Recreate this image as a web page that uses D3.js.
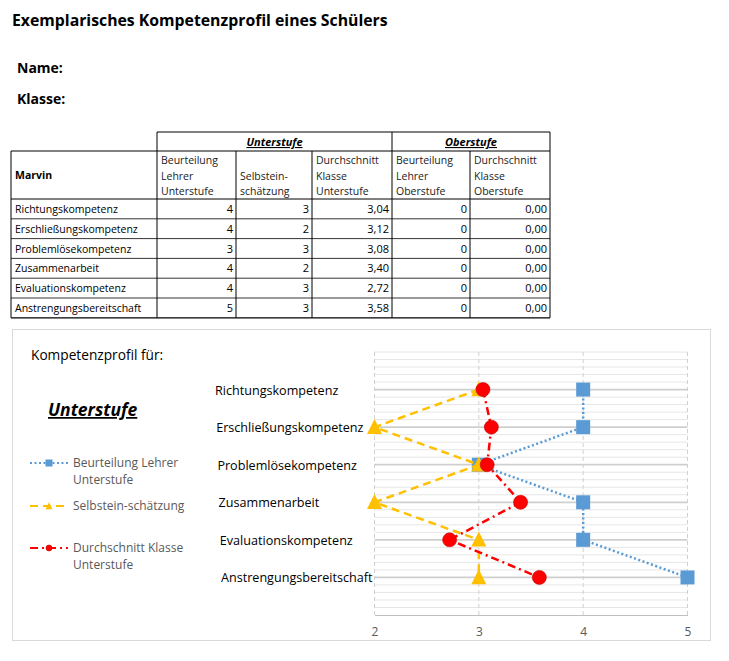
<!DOCTYPE html>
<html>
<head>
<meta charset="utf-8" />
<title>Kompetenzprofil</title>
<script src="https://d3js.org/d3.v7.min.js"></script>
<style>
  body { margin: 0; background: #fff; }
  svg text { font-family: "Open Sans", "DejaVu Sans", sans-serif; }
</style>
</head>
<body>
<div id="page"></div>
<script>
// data
var categories = ["Richtungskompetenz", "Erschließungskompetenz", "Problemlösekompetenz",
                  "Zusammenarbeit", "Evaluationskompetenz", "Anstrengungsbereitschaft"];
var lehrerUnter = [4, 4, 3, 4, 4, 5];
var selbst = [3, 2, 3, 2, 3, 3];
var klasseUnter = [3.04, 3.12, 3.08, 3.40, 2.72, 3.58];
var lehrerOber = [0, 0, 0, 0, 0, 0];
var klasseOber = [0, 0, 0, 0, 0, 0];
var xTicks = [2, 3, 4, 5];

var svg = d3.select("#page").append("svg")
    .attr("width", 729)
    .attr("height", 661);

// heading
svg.append("text").attr("x", 12).attr("y", 26)
    .style("font-size", "15.8px").style("font-weight", "bold")
    .text("Exemplarisches Kompetenzprofil eines Schülers");
svg.append("text").attr("x", 17).attr("y", 73)
    .style("font-size", "14px").style("font-weight", "bold").text("Name:");
svg.append("text").attr("x", 17).attr("y", 104)
    .style("font-size", "14px").style("font-weight", "bold").text("Klasse:");

// ---- table ----
var cols = [11, 157, 236, 312, 392, 470, 550];
var tTop = 132, hLine = 151, hBottom = 199, rowH = 19.8;
var tBottom = hBottom + rowH * categories.length;
var tbl = svg.append("g").attr("class", "table");
var bc = "#000";

// top group header box
tbl.append("line").attr("x1", cols[1]).attr("x2", cols[6]).attr("y1", tTop).attr("y2", tTop).style("stroke", bc);
[1, 4, 6].forEach(function(c) {
  tbl.append("line").attr("x1", cols[c]).attr("x2", cols[c]).attr("y1", tTop).attr("y2", hLine).style("stroke", bc);
});
tbl.append("line").attr("x1", cols[0]).attr("x2", cols[6]).attr("y1", hLine).attr("y2", hLine).style("stroke", bc);
tbl.append("line").attr("x1", cols[0]).attr("x2", cols[6]).attr("y1", hBottom).attr("y2", hBottom).style("stroke", bc);
cols.forEach(function(cx) {
  tbl.append("line").attr("x1", cx).attr("x2", cx).attr("y1", hLine).attr("y2", tBottom).style("stroke", bc);
});
d3.range(categories.length).forEach(function(i) {
  var yy = hBottom + rowH * (i + 1);
  tbl.append("line").attr("x1", cols[0]).attr("x2", cols[6]).attr("y1", yy).attr("y2", yy)
      .style("stroke", bc).style("stroke-width", i == categories.length - 1 ? 1.2 : 0.8);
});

[["Unterstufe", (cols[1] + cols[4]) / 2], ["Oberstufe", (cols[4] + cols[6]) / 2]].forEach(function(d) {
  tbl.append("text").attr("x", d[1]).attr("y", 146)
      .style("font-size", "11px").style("font-weight", "bold").style("font-style", "italic")
      .style("text-decoration", "underline").style("text-anchor", "middle").text(d[0]);
});
tbl.append("text").attr("x", 15).attr("y", 179).style("font-size", "10.5px").style("font-weight", "bold").text("Marvin");

var heads = [["Beurteilung", "Lehrer", "Unterstufe"], ["Selbstein-", "schätzung"],
             ["Durchschnitt", "Klasse", "Unterstufe"], ["Beurteilung", "Lehrer", "Oberstufe"],
             ["Durchschnitt", "Klasse", "Oberstufe"]];
heads.forEach(function(lines, c) {
  lines.forEach(function(s, k) {
    tbl.append("text").attr("x", cols[c + 1] + 4)
        .attr("y", 195 - (lines.length - 1 - k) * 15.5)
        .style("font-size", "10.5px").style("fill", "#222").text(s);
  });
});

var fmt2 = function(v) { return v.toFixed(2).replace(".", ","); };
var tableCols = [
  lehrerUnter.map(String), selbst.map(String), klasseUnter.map(fmt2),
  lehrerOber.map(String), klasseOber.map(fmt2)
];
categories.forEach(function(cat, i) {
  var by = hBottom + rowH * i + 14;
  tbl.append("text").attr("x", 15).attr("y", by).style("font-size", "10.5px").text(cat);
  tableCols.forEach(function(col, c) {
    tbl.append("text").attr("x", cols[c + 2] - 3).attr("y", by)
        .style("font-size", "11px").style("text-anchor", "end").text(col[i]);
  });
});

// ---- chart ----
svg.append("rect").attr("x", 12.5).attr("y", 329.5).attr("width", 698).attr("height", 311)
    .style("fill", "none").style("stroke", "#d9d9d9");

svg.append("text").attr("x", 31).attr("y", 360).style("font-size", "13.7px").text("Kompetenzprofil für:");
svg.append("text").attr("x", 48).attr("y", 416)
    .style("font-size", "17.5px").style("font-weight", "bold").style("font-style", "italic")
    .style("text-decoration", "underline").text("Unterstufe");

var x = d3.scaleLinear().domain([2, 5]).range([374.5, 687.5]);
var y = d3.scaleLinear().domain([0, 7]).range([615, 352]);
var catVal = function(i) { return 6 - i; };

var plot = svg.append("g");

// minor + major horizontal grid
d3.range(1, 36).forEach(function(k) {
  var v = k / 5;
  var major = (k % 5 == 0) && v < 7;
  plot.append("line").attr("x1", x(2)).attr("x2", x(5))
      .attr("y1", y(v)).attr("y2", y(v))
      .style("stroke", major ? "#cfcfcf" : "#e6e6e6")
      .style("stroke-width", major ? 1.8 : 1);
});
// vertical dashed grid
xTicks.forEach(function(t) {
  plot.append("line").attr("x1", x(t)).attr("x2", x(t)).attr("y1", y(7)).attr("y2", y(0))
      .style("stroke", "#d0d0d0").style("stroke-dasharray", "4,3");
});

var xAxis = d3.axisBottom(x).tickValues(xTicks).tickFormat(d3.format("d")).tickSize(0).tickPadding(12);
var ax = plot.append("g").attr("transform", "translate(0," + y(0) + ")").call(xAxis);
ax.select(".domain").style("stroke", "#bfbfbf");
ax.selectAll("text").style("font-size", "12px").style("fill", "#595959")
    .style("font-family", "'Open Sans', sans-serif");

// category labels
plot.selectAll(".cat").data(categories).enter().append("text")
    .attr("class", "cat")
    .attr("x", function(d, i) { return 215 + i * 1.2; })
    .attr("y", function(d, i) { return y(catVal(i)) + 5; })
    .style("font-size", "12.6px")
    .text(function(d) { return d; });

var series = [
  {name: ["Beurteilung Lehrer", "Unterstufe"], values: lehrerUnter, color: "#5b9bd5", dash: "2,2.5", marker: "square"},
  {name: ["Selbstein-schätzung"], values: selbst, color: "#ffc000", dash: "8,5", marker: "triangle"},
  {name: ["Durchschnitt Klasse", "Unterstufe"], values: klasseUnter, color: "#ff0000", dash: "8,4,2,4", marker: "circle"}
];

var line = d3.line()
    .x(function(d) { return x(d); })
    .y(function(d, i) { return y(catVal(i)); });

function drawMarker(g, type, color, cx, cy, s) {
  if (type == "square") {
    g.append("rect").attr("x", cx - s / 2).attr("y", cy - s / 2).attr("width", s).attr("height", s)
        .style("fill", color);
  } else if (type == "triangle") {
    g.append("path").attr("d", "M" + cx + "," + (cy - s * 0.55) + "L" + (cx + s / 2) + "," + (cy + s * 0.45) +
        "L" + (cx - s / 2) + "," + (cy + s * 0.45) + "Z").style("fill", color);
  } else {
    g.append("circle").attr("cx", cx).attr("cy", cy).attr("r", s / 2)
        .style("fill", color).style("stroke", "#c00000").style("stroke-width", 0.6);
  }
}

series.forEach(function(s) {
  var g = plot.append("g");
  g.append("path").datum(s.values).attr("d", line)
      .style("fill", "none").style("stroke", s.color).style("stroke-width", 2.5)
      .style("stroke-dasharray", s.dash);
  s.values.forEach(function(v, i) {
    drawMarker(g, s.marker, s.color, x(v), y(catVal(i)), s.marker == "triangle" ? 15 : 14);
  });
});

// legend
var legY = [463, 506, 548];
series.forEach(function(s, k) {
  var g = svg.append("g");
  g.append("line").attr("x1", 30).attr("x2", 68).attr("y1", legY[k]).attr("y2", legY[k])
      .style("stroke", s.color).style("stroke-width", 2.2).style("stroke-dasharray", s.dash);
  drawMarker(g, s.marker, s.color, 49, legY[k], s.marker == "circle" ? 6 : 7);
  s.name.forEach(function(t, j) {
    g.append("text").attr("x", 73).attr("y", legY[k] + 4 + j * 16.5)
        .style("font-size", "12px").style("fill", "#595959").text(t);
  });
});
</script>
</body>
</html>
